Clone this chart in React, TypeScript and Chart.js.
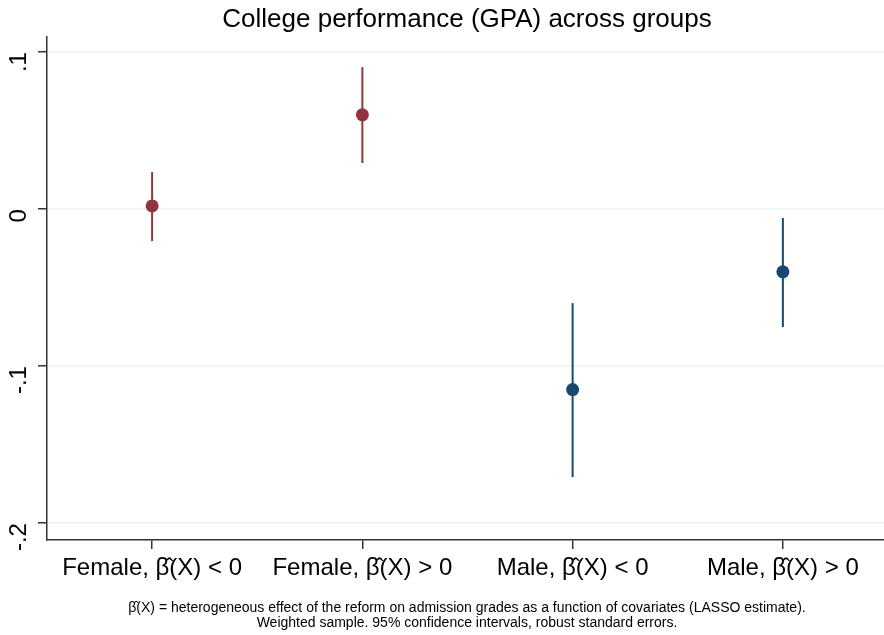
import React, { useEffect, useRef } from "react";
import { Chart, registerables } from "chart.js";

Chart.register(...registerables);

const categories = ["Female, \u03B2\u0302(X) < 0", "Female, \u03B2\u0302(X) > 0", "Male, \u03B2\u0302(X) < 0", "Male, \u03B2\u0302(X) > 0"];
const estimates = [0.002, 0.06, -0.115, -0.04];
const ciLow = [-0.0204, 0.0293, -0.1707, -0.0752];
const ciHigh = [0.0236, 0.0904, -0.0599, -0.0057];
const pointColors = ["#90353B", "#90353B", "#1A476F", "#1A476F"];
const yTickValues = [0.1, 0, -0.1, -0.2];
const yTickLabels = [".1", "0", "-.1", "-.2"];
const titleText = "College performance (GPA) across groups";
const noteLines = [
  "\u03B2\u0302(X) = heterogeneous effect of the reform on admission grades as a function of covariates (LASSO estimate).",
  "Weighted sample. 95% confidence intervals, robust standard errors.",
];

const FONT = "'Liberation Sans', Arial, sans-serif";

const errorBarPlugin = {
  id: "errorBars",
  beforeDatasetsDraw(chart: any) {
    const { ctx } = chart;
    const xs = chart.scales.x;
    const ys = chart.scales.y;
    ctx.save();
    ctx.lineWidth = 2;
    for (let i = 0; i < estimates.length; i++) {
      const x = xs.getPixelForValue(i);
      ctx.strokeStyle = pointColors[i];
      ctx.beginPath();
      ctx.moveTo(x, ys.getPixelForValue(ciHigh[i]));
      ctx.lineTo(x, ys.getPixelForValue(ciLow[i]));
      ctx.stroke();
    }
    ctx.restore();
  },
};

const textPlugin = {
  id: "texts",
  afterDraw(chart: any) {
    const { ctx } = chart;
    ctx.save();
    ctx.fillStyle = "#000";
    ctx.textAlign = "center";
    ctx.textBaseline = "middle";
    ctx.font = `26px ${FONT}`;
    ctx.fillText(titleText, 467, 20);
    ctx.font = `14px ${FONT}`;
    ctx.fillText(noteLines[0], 467, 608);
    ctx.fillText(noteLines[1], 467, 623);
    ctx.restore();
  },
};

export default function App() {
  const ref = useRef<HTMLCanvasElement>(null);
  useEffect(() => {
    if (!ref.current) return;
    const chart = new Chart(ref.current, {
      type: "line",
      data: {
        labels: categories,
        datasets: [
          {
            data: estimates,
            showLine: false,
            pointRadius: 6.5,
            pointHoverRadius: 6.5,
            pointBackgroundColor: pointColors,
            pointBorderColor: pointColors,
            pointBorderWidth: 0,
            clip: false,
          },
        ],
      },
      options: {
        animation: false,
        responsive: false,
        events: [],
        layout: { autoPadding: false, padding: { top: 37, right: 0, bottom: 50, left: 0 } },
        plugins: { legend: { display: false }, tooltip: { enabled: false }, title: { display: false } },
        scales: {
          x: {
            type: "category",
            offset: true,
            grid: { display: true, drawOnChartArea: false, drawTicks: true, tickLength: 9, tickColor: "#333", offset: false, lineWidth: 1.5 },
            border: { color: "#333", width: 1.5 },
            ticks: { color: "#000", font: { family: FONT, size: 24 }, maxRotation: 0, minRotation: 0, padding: 5 },
            afterFit(scale: any) {
              scale.height = 45;
              scale.paddingLeft = 0;
              scale.paddingRight = 0;
            },
          },
          y: {
            min: -0.2108,
            max: 0.1096,
            afterBuildTicks(scale: any) {
              scale.ticks = yTickValues.map((v) => ({ value: v }));
            },
            grid: { color: "#EAF2F3", lineWidth: 1.5, tickLength: 9, tickColor: "#333" },
            border: { color: "#333", width: 1.5 },
            ticks: {
              color: "#000",
              font: { family: FONT, size: 24 },
              minRotation: 90,
              maxRotation: 90,
              padding: 19,
              callback: (v: any) => {
                const idx = yTickValues.findIndex((t) => Math.abs(t - Number(v)) < 1e-9);
                return idx >= 0 ? yTickLabels[idx] : "";
              },
            },
            afterFit(scale: any) {
              scale.width = 47;
              scale.paddingTop = 0;
              scale.paddingBottom = 0;
            },
          },
        },
      },
      plugins: [errorBarPlugin, textPlugin],
    });
    return () => chart.destroy();
  }, []);
  return (
    <div style={{ position: "fixed", left: 0, top: 0, width: 884, height: 635, overflow: "hidden", background: "#fff" }}>
      <canvas ref={ref} width={888} height={635} />
    </div>
  );
}
